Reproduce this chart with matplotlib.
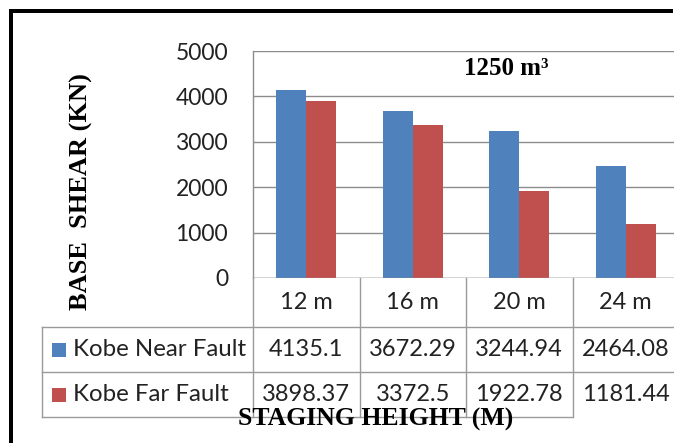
import matplotlib.pyplot as plt
from matplotlib.transforms import blended_transform_factory
from matplotlib.patches import Rectangle
from matplotlib.lines import Line2D
import numpy as np

heights = ["12 m", "16 m", "20 m", "24 m"]
series_names = ["Kobe Near Fault", "Kobe Far Fault"]
near_fault = [4135.1, 3672.29, 3244.94, 2464.08]
far_fault = [3898.37, 3372.5, 1922.78, 1181.44]
near_labels = ["4135.1", "3672.29", "3244.94", "2464.08"]
far_labels = ["3898.37", "3372.5", "1922.78", "1181.44"]
yticks = [0, 1000, 2000, 3000, 4000, 5000]

BLUE = "#4F81BD"
RED = "#C0504D"
GRID = "#8C8C8C"
SANS = "Lato"
SERIF = "Liberation Serif"

W, H = 674, 443
fig = plt.figure(figsize=(W / 100, H / 100), dpi=100)


def fx(px):
    return px / W


def fy(py):
    return 1 - py / H


# plot area, right edge runs slightly past the image
ax = fig.add_axes([fx(253), fy(278), fx(679) - fx(253), fy(51) - fy(278)])
x = np.arange(len(heights))
bw = 0.28
ax.bar(x - bw / 2, near_fault, bw, color=BLUE, zorder=3)
ax.bar(x + bw / 2, far_fault, bw, color=RED, zorder=3)
ax.set_xlim(-0.5, 3.5)
ax.set_ylim(0, 5000)
ax.set_yticks(yticks)
ax.set_yticklabels([str(t) for t in yticks], fontname=SANS, fontsize=16.5, color="#222222")
ax.tick_params(axis="y", length=0, pad=18)
ax.set_xticks([])
ax.yaxis.grid(True, color=GRID, linewidth=1.0, zorder=0)
for s in ["top", "right", "bottom"]:
    ax.spines[s].set_visible(False)
ax.spines["left"].set_color(GRID)
ax.spines["left"].set_linewidth(1.0)
ax.axhline(0, color=GRID, linewidth=1.0, zorder=4)

ax.text(0.595, 0.925, "1250 m\u00b3", transform=ax.transAxes, ha="center", va="center",
        fontname=SERIF, fontweight="bold", fontsize=18)

# data table under the axis
tr = blended_transform_factory(ax.transData, fig.transFigure)
tf = fig.transFigure
row_y = [fy(278), fy(327), fy(372), fy(417)]
lc = "#9A9A9A"

for xb in [-0.5, 0.5, 1.5, 2.5]:
    fig.add_artist(Line2D([xb, xb], [row_y[3], row_y[0]], transform=tr, color=lc, lw=1.0))
for yb in [row_y[1], row_y[2]]:
    fig.add_artist(Line2D([fx(42), fx(679)], [yb, yb], transform=tf, color=lc, lw=1.0))
fig.add_artist(Line2D([fx(42), fx(572)], [row_y[3], row_y[3]], transform=tf, color=lc, lw=1.0))
fig.add_artist(Line2D([fx(42), fx(42)], [row_y[3], row_y[1]], transform=tf, color=lc, lw=1.0))

tkw = dict(fontname=SANS, fontsize=17, color="#222222", ha="center", va="center")
for i, h in enumerate(heights):
    fig.text(x[i], (row_y[0] + row_y[1]) / 2, h, transform=tr, **tkw)
    fig.text(x[i], (row_y[1] + row_y[2]) / 2, near_labels[i], transform=tr, **tkw)
    fig.text(x[i], (row_y[2] + row_y[3]) / 2, far_labels[i], transform=tr, **tkw)

for name, col, r in zip(series_names, [BLUE, RED], [1, 2]):
    yc = (row_y[r] + row_y[r + 1]) / 2
    fig.add_artist(Rectangle((fx(52), yc - 7 / H), 14 / W, 14 / H, transform=tf,
                             facecolor=col, edgecolor="none"))
    fig.text(fx(73), yc, name, transform=tf, fontname=SANS, fontsize=17.3,
             color="#222222", ha="left", va="center")

fig.text(fx(376), fy(419), "STAGING HEIGHT (M)", fontname=SERIF, fontweight="bold",
         fontsize=18.5, ha="center", va="center")
fig.text(fx(81), fy(192), "BASE  SHEAR (KN)", fontname=SERIF, fontweight="bold",
         fontsize=19, ha="center", va="center", rotation=90)

# outer frame as two filled bars, left and top edges only
fig.add_artist(Rectangle((fx(8.5), 0), fx(4.5), fy(8.5), transform=tf,
                         facecolor="black", edgecolor="none"))
fig.add_artist(Rectangle((fx(8.5), fy(13)), fx(W - 1) - fx(8.5), fy(8.5) - fy(13), transform=tf,
                         facecolor="black", edgecolor="none"))

fig.savefig("out.png", dpi=100)
